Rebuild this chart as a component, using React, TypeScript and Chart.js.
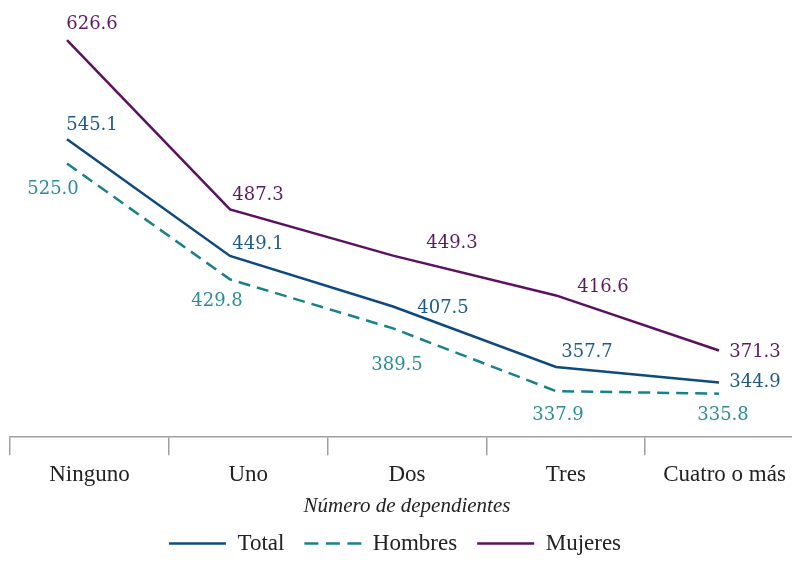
import React, { useEffect, useRef } from "react";
import { Chart, registerables } from "chart.js";

Chart.register(...registerables);

const categories = ["Ninguno", "Uno", "Dos", "Tres", "Cuatro o más"];
const totalValues = [545.1, 449.1, 407.5, 357.7, 344.9];
const hombresValues = [525.0, 429.8, 389.5, 337.9, 335.8];
const mujeresValues = [626.6, 487.3, 449.3, 416.6, 371.3];
const seriesNames = ["Total", "Hombres", "Mujeres"];
const axisTitle = "Número de dependientes";

// label placement (style only): [dx, dy] from each point
const labelOffsets: Record<string, number[][]> = {
  Total: [[25, -14], [28, -12], [50, 2], [31, -15], [36, 0]],
  Hombres: [[-14, 26], [-13, 22], [4, 37], [2, 24], [4, 22]],
  Mujeres: [[25, -16], [28, -14], [59, -12], [47, -8], [36, 2]],
};
const lineColors: Record<string, string> = {
  Total: "#0e4a7e",
  Hombres: "#18818d",
  Mujeres: "#5b1060",
};
const labelColors: Record<string, string> = {
  Total: "#1d5a8c",
  Hombres: "#2a8d99",
  Mujeres: "#5b1a5f",
};

const valueLabels = {
  id: "valueLabels",
  afterDatasetsDraw(chart: any) {
    const ctx = chart.ctx;
    ctx.save();
    ctx.font = "18px 'DejaVu Serif'";
    ctx.textAlign = "center";
    ctx.textBaseline = "middle";
    chart.data.datasets.forEach((ds: any, di: number) => {
      const meta = chart.getDatasetMeta(di);
      const offs = labelOffsets[ds.label];
      ctx.fillStyle = labelColors[ds.label];
      meta.data.forEach((pt: any, i: number) => {
        const v = ds.data[i].y;
        ctx.fillText(v.toFixed(1), pt.x + offs[i][0], pt.y + offs[i][1]);
      });
    });
    ctx.restore();
  },
};

const legendShift = {
  id: "legendShift",
  afterLayout(chart: any) {
    const lg = chart.legend;
    if (lg) {
      lg.left -= 12;
      lg.right -= 12;
      lg.top -= 5.5;
      lg.bottom -= 5.5;
    }
  },
};

export default function App() {
  const ref = useRef<HTMLCanvasElement>(null);
  useEffect(() => {
    document.body.style.margin = "0";
    const toPts = (arr: number[]) => arr.map((v, i) => ({ x: i, y: v }));
    const seriesData = [totalValues, hombresValues, mujeresValues];
    const chart = new Chart(ref.current!, {
      type: "line",
      data: {
        labels: categories,
        datasets: seriesNames.map((name, k) => ({
          label: name,
          data: toPts(seriesData[k]),
          borderColor: lineColors[name],
          backgroundColor: lineColors[name],
          borderWidth: 2.5,
          borderDash: name === "Hombres" ? [12, 7] : [],
          pointRadius: 0,
          pointStyle: "line",
          tension: 0,
          fill: false,
          xAxisID: "x",
          yAxisID: "y",
        })),
      },
      options: {
        animation: false,
        responsive: false,
        layout: { padding: { left: 10, right: 0, top: 11.6, bottom: 2.5 } },
        scales: {
          x: { type: "linear", display: false, min: -0.3497, max: 4.5215 },
          y: { type: "linear", display: false, min: 300, max: 650 },
          xc: {
            type: "category",
            axis: "x",
            position: "bottom",
            offset: true,
            labels: categories,
            grid: {
              offset: true,
              drawOnChartArea: false,
              drawTicks: true,
              tickLength: 18,
              color: "#a0a0a0",
              lineWidth: 1.5,
            },
            border: { display: true, color: "#a0a0a0", width: 1.5 },
            ticks: {
              font: { family: "'Liberation Serif'", size: 23 },
              color: "#222",
              padding: 5.9,
              maxRotation: 0,
              autoSkip: false,
            },
            title: {
              display: true,
              text: axisTitle,
              font: { family: "'Liberation Serif'", size: 21, style: "italic" },
              color: "#222",
              padding: { top: -0.3, bottom: -2 },
            },
          },
        },
        plugins: {
          tooltip: { enabled: false },
          legend: {
            position: "bottom",
            labels: {
              font: { family: "'Liberation Serif'", size: 23 },
              color: "#222",
              usePointStyle: true,
              pointStyleWidth: 57,
              padding: 20,
              generateLabels: (c: any) => {
                const items = Chart.defaults.plugins.legend.labels.generateLabels(c);
                return items.map((it: any) => ({
                  ...it,
                  pointStyle: "line",
                  lineWidth: 2.5,
                  lineDash: it.text === "Hombres" ? [14, 7.5] : [],
                }));
              },
            },
          },
        },
      } as any,
      plugins: [valueLabels, legendShift],
    });
    return () => chart.destroy();
  }, []);
  return (
    <div style={{ position: "fixed", left: 0, top: 0, width: 792, height: 573, overflow: "hidden" }}>
      <canvas ref={ref} width={804} height={573} style={{ display: "block" }} />
    </div>
  );
}
